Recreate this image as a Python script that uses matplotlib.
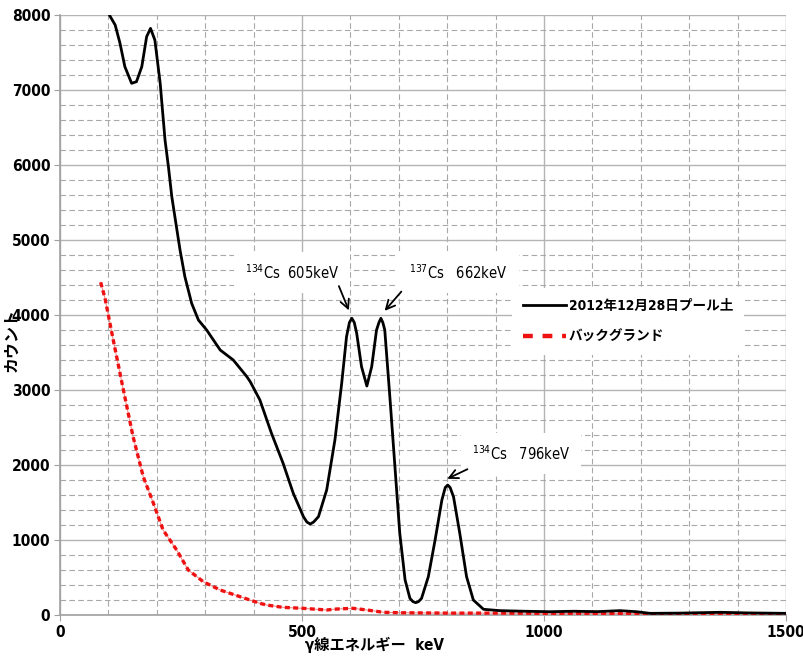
import matplotlib
matplotlib.use("Agg")
import matplotlib.pyplot as plt
from matplotlib.ticker import MultipleLocator
from matplotlib.lines import Line2D

# ---- data ----
sample_energy = [98, 102, 114, 124, 134, 148, 158, 169, 179, 187, 196, 207, 217, 224, 231, 240, 248,
                 258, 272, 286, 303, 331, 358, 386, 393, 413, 437, 461, 482, 503, 510, 517, 524, 534,
                 551, 568, 582, 592, 598, 603, 608, 613, 623, 634, 644, 654, 659, 663, 667, 671, 682,
                 692, 702, 713, 723, 729, 735, 741, 747, 761, 775, 789, 796, 801, 806, 813, 826, 840,
                 854, 875, 909, 960, 1012, 1060, 1110, 1157, 1191, 1219, 1280, 1364, 1420, 1501]
sample_counts = [8100, 8000, 7867, 7622, 7311, 7089, 7111, 7311, 7711, 7822, 7667, 7089, 6333, 5978,
                 5578, 5200, 4867, 4511, 4156, 3933, 3800, 3533, 3400, 3178, 3111, 2867, 2422, 2022,
                 1622, 1311, 1240, 1213, 1240, 1311, 1667, 2333, 3089, 3711, 3900, 3956, 3900, 3756,
                 3311, 3053, 3311, 3800, 3900, 3956, 3900, 3800, 2867, 1978, 1089, 467, 222, 180, 164,
                 180, 222, 511, 1000, 1533, 1700, 1733, 1700, 1578, 1089, 511, 200, 76, 58, 50, 44,
                 50, 45, 58, 44, 22, 25, 36, 28, 22]

bg_energy = [84, 93, 110, 131, 151, 172, 193, 213, 241, 265, 296, 331, 372, 413, 427, 461, 502, 551,
             572, 605, 634, 668, 702, 802, 909, 1000, 1100, 1200, 1300, 1400, 1500]
bg_counts = [4436, 4222, 3667, 3000, 2377, 1844, 1489, 1133, 867, 600, 444, 333, 244, 156, 133, 102,
             89, 67, 80, 89, 67, 36, 30, 25, 25, 22, 20, 18, 18, 18, 15]

series_labels = ["2012年12月28日プール土", "バックグランド"]

peak_labels = [r"$^{134}$Cs  605keV", r"$^{137}$Cs   662keV", r"$^{134}$Cs   796keV"]
peak_heads = [(599, 4027), (667, 4027), (795, 1800)]
peak_tails = [(574, 4420), (709, 4340), (847, 1960)]
peak_text_pos = [(382, 4570), (722, 4560), (851, 2150)]

x_label = "γ線エネルギー  keV"
y_label = "カウント"

# ---- figure ----
fam = ['DejaVu Sans', 'Noto Sans CJK JP']
plt.rcParams['font.family'] = fam
plt.rcParams['font.stretch'] = 'condensed'
plt.rcParams['mathtext.fontset'] = 'dejavusans'

fig = plt.figure(figsize=(8.04, 6.68), dpi=100)
ax = fig.add_axes([60/804, 1-615/668, 726/804, 600/668])

ax.set_xlim(0, 1500)
ax.set_ylim(0, 8000)
ax.xaxis.set_major_locator(MultipleLocator(500))
ax.xaxis.set_minor_locator(MultipleLocator(100))
ax.yaxis.set_major_locator(MultipleLocator(1000))
ax.yaxis.set_minor_locator(MultipleLocator(200))

ax.grid(which='major', color='#b4b4b4', linewidth=1.0, linestyle='-')
ax.grid(which='minor', color='#a8a8a8', linewidth=0.8, linestyle=(0, (5, 3)))
ax.set_axisbelow(True)

for s in ['top', 'right']:
    ax.spines[s].set_visible(False)
for s in ['left', 'bottom']:
    ax.spines[s].set_color('#a0a0a0')
    ax.spines[s].set_linewidth(1.2)

ax.tick_params(which='major', length=4, color='#a0a0a0', labelsize=11.2, pad=3)
ax.tick_params(which='minor', length=0)
for lab in ax.get_xticklabels() + ax.get_yticklabels():
    lab.set_fontweight('bold')
    lab.set_fontstretch('condensed')

# background: thin connecting line + square dots
ax.plot(bg_energy, bg_counts, color='#f08080', linewidth=0.7, zorder=3)
ax.plot(bg_energy, bg_counts, color='#ee1111', linewidth=2.4,
        linestyle=(0, (1.5, 1.0)), dash_capstyle='butt', zorder=3)
ax.plot(sample_energy, sample_counts, color='black', linewidth=2.0, zorder=4)

for lab, head, tail, tp in zip(peak_labels, peak_heads, peak_tails, peak_text_pos):
    ax.annotate('', xy=head, xytext=tail,
                arrowprops=dict(arrowstyle='->', color='black', lw=1.3,
                                mutation_scale=16), zorder=6)
    ax.text(tp[0], tp[1], lab, fontsize=10.5, ha='left', va='center',
            family=fam, stretch='condensed', zorder=5,
            bbox=dict(facecolor='white', edgecolor='none', pad=8))

handles = [Line2D([], [], color='black', linewidth=2.0),
           Line2D([], [], color='#ee1111', linewidth=3.2, linestyle=(0, (2.2, 2.2)))]
leg = ax.legend(handles, series_labels, loc='upper left',
                bbox_to_anchor=((505-60)/726, (615-281)/600),
                frameon=True, fancybox=False, framealpha=1.0, edgecolor='none',
                facecolor='white', handlelength=3.2, handletextpad=0.2,
                labelspacing=1.25, borderpad=0.8,
                prop=dict(family=fam, weight='bold', size=9.8, stretch='condensed'))
leg.set_zorder(7)

ax.set_xlabel(x_label, fontsize=11, fontweight='bold', family=fam)
ax.xaxis.set_label_coords((375-60)/726, -0.037)
fig.text(12/804, 1-340/668, y_label, rotation=90, ha='center', va='center',
         fontsize=11.5, fontweight='bold', family=fam)

fig.savefig('out.png', dpi=100)
